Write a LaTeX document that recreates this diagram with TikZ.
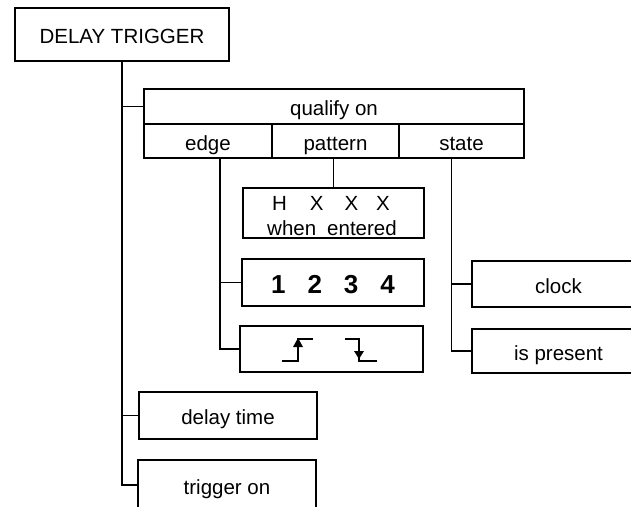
\documentclass[tikz,border=0pt]{standalone}
\usepackage{fontspec}
\setmainfont{Liberation Sans}
\begin{document}
\begin{tikzpicture}[x=1pt,y=-1pt,
  box/.style={draw, line width=1.3pt, rectangle, inner sep=0pt, text height=19pt, text depth=1pt,
    font=\fontsize{20.5}{23}\selectfont},
  lbl/.style={inner sep=0pt, font=\fontsize{20.5}{23}\selectfont},
  conn/.style={line width=1.3pt},
  sig/.style={line width=1.3pt}]
\useasboundingbox (0,0) rectangle (631,506);
\clip (0,0) rectangle (631,506);
% main box
\node[box, minimum width=214pt, minimum height=53pt] (dt) at (122,34.5) {DELAY TRIGGER};
% qualify on
\node[box, minimum width=380pt, minimum height=35pt] (qual) at (334,106.5) {qualify on};
\node[box, minimum width=128pt, minimum height=34pt] (edge) at (208,141) {edge};
\node[box, minimum width=127pt, minimum height=34pt] (pattern) at (335.5,141) {pattern};
\node[box, minimum width=125pt, minimum height=34pt] (state) at (461.5,141) {state};
% pattern box
\node[box, minimum width=181pt, minimum height=50pt] (hx) at (333.5,213) {};
\node[lbl] (hxt) at (331,203) {H\hspace{23pt}X\hspace{21pt}X\hspace{18pt}X};
\node[lbl] (hwe) at (332,228) {when\hspace{11pt}entered};
% numbers
\node[box, minimum width=182pt, minimum height=47pt, text height=22pt, text depth=1pt,
  font=\fontsize{26}{28}\bfseries\selectfont] (nums) at (333,282.5)
  {1\hspace{22pt}2\hspace{22pt}3\hspace{22pt}4};
% edges
\node[box, minimum width=183pt, minimum height=46pt] (edges) at (331.5,349) {};
\coordinate (r1) at (282,361);
\coordinate (r2) at (298,361);
\coordinate (r3) at (298,339);
\coordinate (r4) at (313,339);
\draw[sig] (r1) -- (r2) -- (r3) -- (r4);
\fill (298,338) -- (293,347) -- (303,347) -- cycle;
\coordinate (f1) at (345,339);
\coordinate (f2) at (359,339);
\coordinate (f3) at (359,361);
\coordinate (f4) at (377,361);
\draw[sig] (f1) -- (f2) -- (f3) -- (f4);
\fill (359,359) -- (354,351) -- (364,351) -- cycle;
% state boxes
\node[box, minimum width=173pt, minimum height=46pt] (clock) at (558.5,284) {clock};
\node[box, minimum width=173pt, minimum height=44pt] (ispres) at (558.5,351) {is present};
% lower boxes
\node[box, minimum width=178pt, minimum height=47pt] (delay) at (228,415.5) {delay time};
\node[box, minimum width=178pt, minimum height=50pt] (trig) at (227,485) {trigger on};
% connectors
\draw[conn] (dt.south) |- (qual.west);
\draw[conn] (dt.south) |- (delay.west);
\draw[conn] (dt.south) |- (trig.west);
\draw[conn] ([xshift=12pt]edge.south) |- (nums.west);
\draw[conn] ([xshift=12pt]edge.south) |- (edges.west);
\draw[conn] (hx.north) -- (hx.north |- pattern.south);
\draw[conn] ([xshift=-10pt]state.south) |- (clock.west);
\draw[conn] ([xshift=-10pt]state.south) |- (ispres.west);
\end{tikzpicture}
\end{document}
